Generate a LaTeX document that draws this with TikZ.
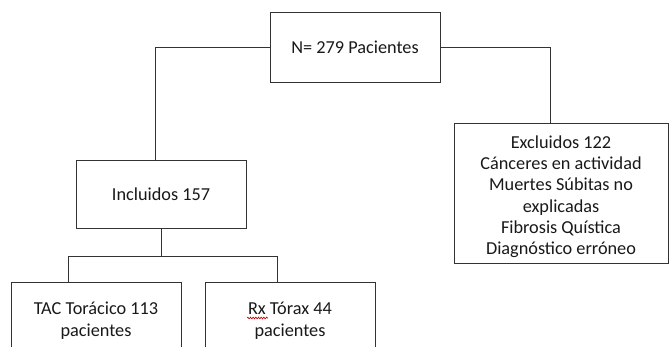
\documentclass[tikz,border=0pt]{standalone}
\usepackage{fontspec}
\setmainfont{Carlito}
\usetikzlibrary{decorations.pathmorphing}
\begin{document}
\begin{tikzpicture}[x=0.75pt,y=-0.75pt,
  box/.style={draw=black!80, line width=0.75pt, fill=white, inner sep=0pt, align=center,
    text=black!90, font=\fontsize{13.7}{16}\selectfont},
  txt/.style={inner sep=0pt, align=center, text=black!90, font=\fontsize{13.7}{16}\selectfont},
  link/.style={draw=black!80, line width=0.75pt}]
\useasboundingbox (0,0) rectangle (670,346);
\clip (0,0) rectangle (670,346);
\node[box, minimum width=127.5pt, minimum height=51.75pt] (top) at (355,47.5) {N= 279 Pacientes};
\node[box, minimum width=127.5pt, minimum height=51pt] (incl) at (161,194) {Incluidos 157};
\node[box, minimum width=160.5pt, minimum height=105pt] (excl) at (561,193) {};
\node[txt] (excltext) at ([yshift=-2.8pt]excl.center) {Excluidos 122\\C\'anceres en actividad\\Muertes S\'ubitas no\\explicadas\\Fibrosis Qu\'istica\\Diagn\'ostico err\'oneo};
\node[box, minimum width=127.5pt, minimum height=53.25pt] (tac) at (96,317.5) {};
\node[txt] (tactext) at ([yshift=-2.4pt]tac.center) {TAC Tor\'acico 113\\pacientes};
\node[box, minimum width=127.5pt, minimum height=53.25pt] (rx) at (290,317.5) {};
\node[txt] (rxtext) at ([yshift=-2.4pt]rx.center) {Rx T\'orax 44\\pacientes};
\coordinate (lj) at (155,0);
\coordinate (rj) at (550,0);
\coordinate (bl) at (68,256);
\coordinate (br) at (277,256);
\draw[link] (top.west) -| (lj |- incl.north);
\draw[link] (top.east) -| (rj |- excl.north);
\draw[link] (incl.south) -- (incl.south |- bl);
\draw[link] (bl |- tac.north) |- (br) -- (br |- rx.north);
\draw[red!80!black, line width=0.5pt, decorate, decoration={snake, amplitude=0.6pt, segment length=2pt}] (247,318) -- (268,318);
\end{tikzpicture}
\end{document}
